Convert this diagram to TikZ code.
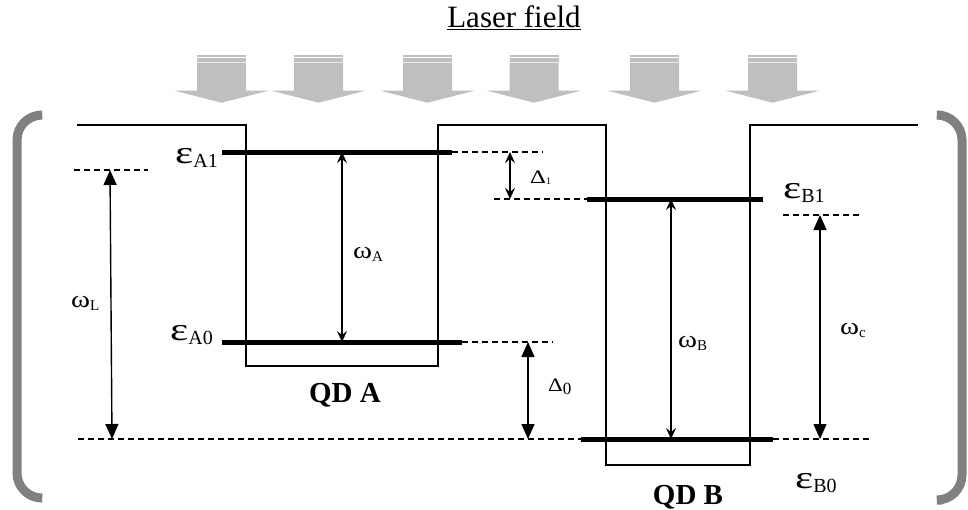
\documentclass[tikz,border=0pt]{standalone}
\usepackage{fontspec}
\setmainfont{Liberation Serif}
\usetikzlibrary{arrows.meta}

% label macros: symbol with a lowered subscript
\newcommand{\epslab}[1]{{\fontsize{32}{32}\selectfont\scalebox{1.35}[1]{ε}}\raisebox{-4pt}{\fontsize{20}{20}\selectfont #1}}
\newcommand{\omlab}[1]{{\fontsize{24}{24}\selectfont\scalebox{1.2}[1]{ω}}\raisebox{-3pt}{\fontsize{15}{15}\selectfont #1}}

\begin{document}
\begin{tikzpicture}[
  x=1pt, y=-1pt,
  wall/.style={line width=1.5pt, line join=miter},
  level/.style={line width=5pt},
  aux/.style={line width=1.2pt, dash pattern=on 6pt off 4pt},
  bracket/.style={line width=9pt, draw=gray, rounded corners=25pt},
  beam/.style={fill=gray!50, draw=none},
  openarr/.style={{Stealth[length=11pt,width=10pt,inset=4pt]}-{Stealth[length=11pt,width=10pt,inset=4pt]}, line width=1.4pt},
  fillarr/.style={{Triangle[length=15pt,width=13pt]}-{Triangle[length=15pt,width=13pt]}, line width=1.4pt},
  lab/.style={inner sep=0pt}
]
\useasboundingbox (0,0) rectangle (968,509);

% laser field
\node[lab, anchor=base, font=\fontsize{31}{31}\selectfont] (laser) at (514,27) {\underline{Laser field}};
\foreach \cx in {221.5, 318.5, 427.5, 534, 654.5, 772.5} {
  \fill[beam] (\cx-24.5,55) rectangle (\cx+24.5,56.7);
  \fill[beam] (\cx-24.5,58.3) rectangle (\cx+24.5,61.7);
  \fill[beam] (\cx-24.5,62.7) -- (\cx+24.5,62.7) -- (\cx+24.5,90.7) -- (\cx+47,90.7)
    -- (\cx,102.7) -- (\cx-47,90.7) -- (\cx-24.5,90.7) -- cycle;
}

% brackets
\draw[bracket] (41,115) -- (17,115) -- (17,498) -- (41,498);
\draw[bracket] (942,115) -- (962,115) -- (962,500) -- (942,500);

% potential profile
\draw[wall] (77,125) -- (246,125) -- (246,366) -- (438,366) -- (438,125)
  -- (606,125) -- (606,465) -- (750,465) -- (750,125) -- (918,125);

% levels
\coordinate (A1) at (342,152);
\coordinate (A0) at (342,342);
\coordinate (B1) at (671,199);
\coordinate (B0) at (671,439);
\coordinate (D1t) at (510,152);
\coordinate (D1b) at (510,199);
\coordinate (D0t) at (528,342);
\coordinate (D0b) at (528,439);
\coordinate (Lt) at (110,170);
\coordinate (Lb) at (112,439);
\coordinate (Ct) at (820,215);
\coordinate (Cb) at (820,439);

\draw[aux] (452,152) -- (543,152);
\draw[aux] (462,342) -- (553,342);
\draw[aux] (494,199) -- (587,199);
\draw[aux] (78,439) -- (581,439);
\draw[aux] (773,439) -- (871,439);
\draw[aux] (74,170) -- (148,170);
\draw[aux] (783,215) -- (859,215);

\draw[level] (222,152) -- (452,152);
\draw[level] (222,342) -- (462,342);
\draw[level] (587,199) -- (763,199);
\draw[level] (581,439) -- (773,439);

% transitions
\draw[openarr] (A1) -- (A0);
\draw[openarr] (B1) -- (B0);
\draw[openarr, line width=2pt] (D1t) -- (D1b);
\draw[fillarr] (D0t) -- (D0b);
\draw[fillarr] (Lt) -- (Lb);
\draw[fillarr] (Ct) -- (Cb);

% labels
\node[lab, anchor=base east] (eA1) at (218,163) {\epslab{A1}};
\node[lab, anchor=base east] (eA0) at (213,340) {\epslab{A0}};
\node[lab, anchor=base west] (eB1) at (783,198) {\epslab{B1}};
\node[lab, anchor=base west] (eB0) at (795,488) {\epslab{B0}};
\node[lab, anchor=base west] (wA) at (353,258) {\omlab{A}};
\node[lab, anchor=base west] (wL) at (71,307) {\omlab{L}};
\node[lab, anchor=base west] (wB) at (678,347) {\omlab{B}};
\node[lab, anchor=base west] (wC) at (840,334) {\omlab{c}};
\node[lab, anchor=base west] (d1) at (530,183) {{\fontsize{19}{19}\selectfont\scalebox{1.3}[1]{Δ}}\raisebox{-1pt}{\fontsize{10}{10}\selectfont 1}};
\node[lab, anchor=base west] (d0) at (548,391) {{\fontsize{19}{19}\selectfont\scalebox{1.2}[1]{Δ}}\raisebox{-3pt}{\fontsize{17}{17}\selectfont 0}};
\node[lab, anchor=base, font=\fontsize{29}{29}\selectfont\bfseries] (qdA) at (345,402) {QD A};
\node[lab, anchor=base, font=\fontsize{29}{29}\selectfont\bfseries] (qdB) at (688,504) {QD B};
\end{tikzpicture}
\end{document}
